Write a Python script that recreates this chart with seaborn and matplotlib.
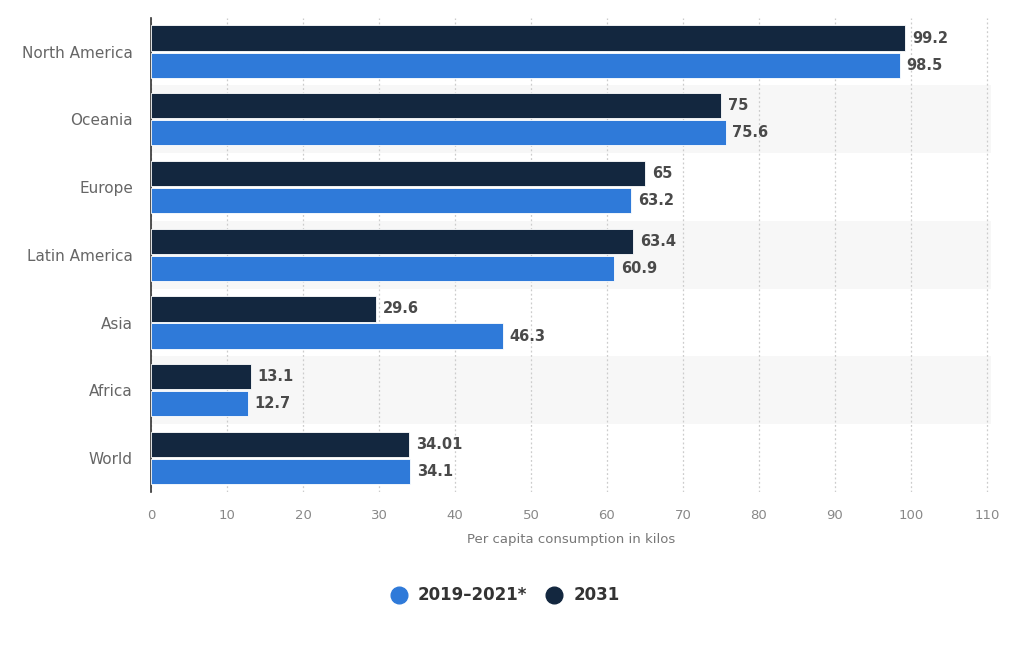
import pandas as pd
import matplotlib.pyplot as plt
import seaborn as sns
from matplotlib.lines import Line2D

# data
regions = ['North America', 'Oceania', 'Europe', 'Latin America', 'Asia', 'Africa', 'World']
vals_2031 = [99.2, 75, 65, 63.4, 29.6, 13.1, 34.01]
vals_base = [98.5, 75.6, 63.2, 60.9, 46.3, 12.7, 34.1]
series = ['2031', '2019-2021*']
legend_labels = ['2019–2021*', '2031']
colors = {'2031': '#13273f', '2019-2021*': '#2f7ad9'}
xticks = list(range(0, 111, 10))

df = pd.DataFrame({
    'region': regions * 2,
    'value': vals_2031 + vals_base,
    'period': [series[0]] * len(regions) + [series[1]] * len(regions),
})

sns.set_style('white')
plt.rcParams['font.family'] = ['DejaVu Sans']

fig = plt.figure(figsize=(10.24, 6.55), dpi=100)
ax = fig.add_axes([0.1475, 0.249, 0.82, 0.724])

# alternating row bands
for i in range(len(regions)):
    if i % 2 == 1:
        ax.axhspan(i - 0.5, i + 0.5, color='#f7f7f7', zorder=0, lw=0)

sns.barplot(data=df, x='value', y='region', hue='period', order=regions,
            hue_order=series, palette=colors, saturation=1, width=0.8, gap=0.07,
            edgecolor='white', linewidth=0.6, legend=False, ax=ax, zorder=3)

for cont in ax.containers:
    ax.bar_label(cont, labels=[f'{v:g}' for v in cont.datavalues], padding=5,
                 fontsize=10.5, fontweight='bold', color='#4a4a4a')

ax.set_xlim(0, 110.5)
ax.set_ylim(len(regions) - 0.5, -0.5)
ax.set_xticks(xticks)
ax.xaxis.grid(True, linestyle=(0, (1.5, 2)), color='#cccccc', linewidth=0.9, zorder=1)
ax.set_axisbelow(True)
ax.tick_params(axis='x', length=0, pad=12, labelsize=9.5, labelcolor='#888888')
ax.tick_params(axis='y', length=0, pad=13, labelsize=11, labelcolor='#666666')
ax.set_ylabel('')
ax.set_xlabel('Per capita consumption in kilos', fontsize=9.5, color='#777777', labelpad=8)

for s in ['top', 'right', 'bottom']:
    ax.spines[s].set_visible(False)
ax.spines['left'].set_color('#333333')
ax.spines['left'].set_linewidth(1.2)

handles = [Line2D([], [], marker='o', linestyle='', markersize=12, color=colors[k])
           for k in ['2019-2021*', '2031']]
fig.legend(handles, legend_labels, loc='center', bbox_to_anchor=(0.489, 0.091), ncol=2,
           frameon=False, handletextpad=0.15, columnspacing=0.6,
           prop={'size': 12, 'weight': 'bold'}, labelcolor='#333333')

fig.savefig('out.png', dpi=100, facecolor='white')
